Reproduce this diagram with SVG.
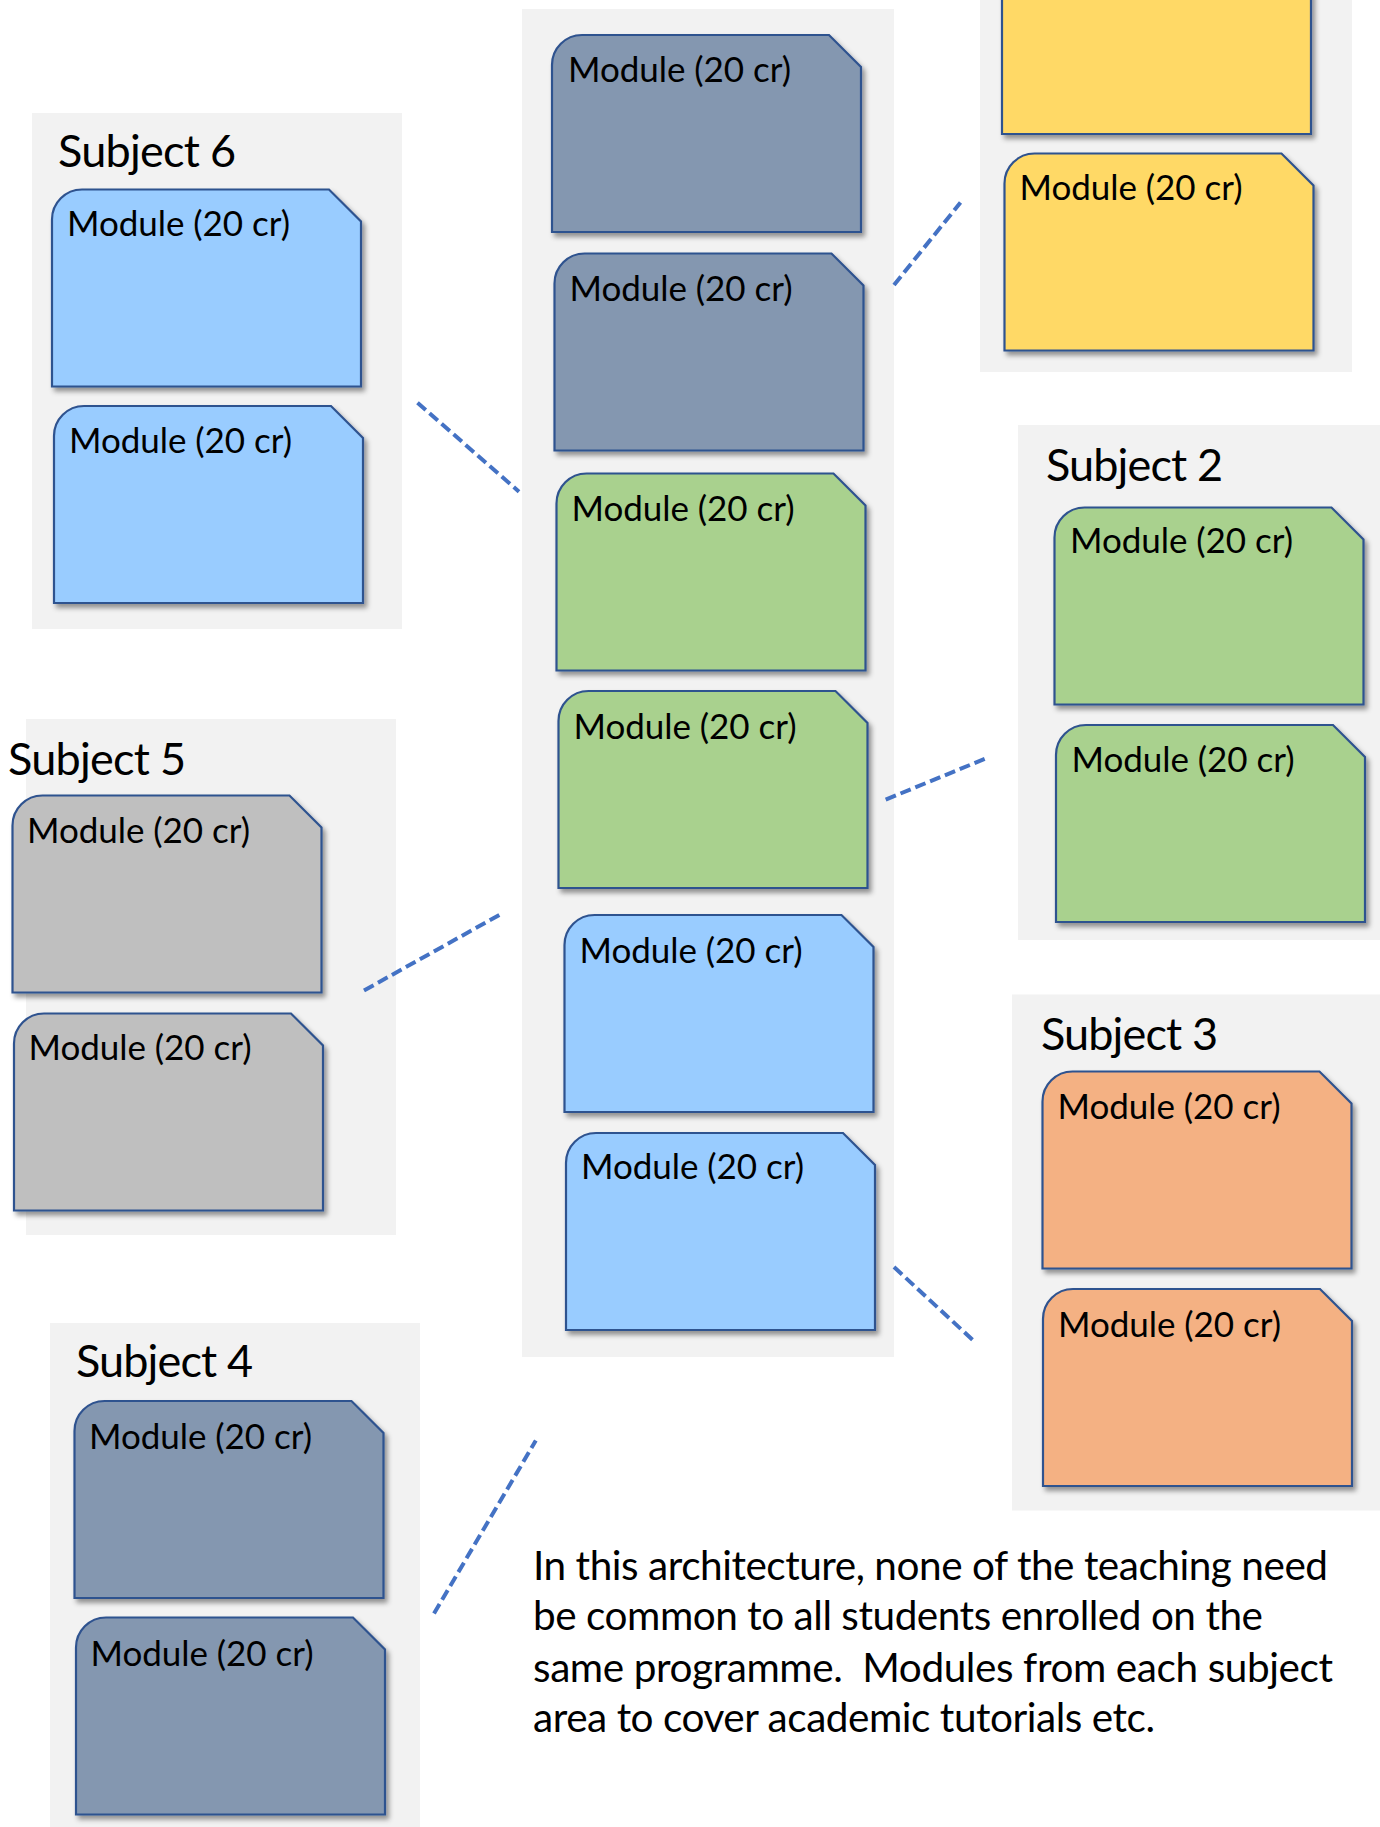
<svg xmlns="http://www.w3.org/2000/svg" xmlns:xlink="http://www.w3.org/1999/xlink" width="1380" height="1827" viewBox="0 0 1380 1827">
<defs>
<style>
.panel{fill:#F2F2F2;}
.m{stroke:#2F528F;stroke-width:2.2;filter:url(#sh);}
.lbl{font-family:Lato,"Open Sans","Liberation Sans",sans-serif;font-size:35px;fill:#000;}
.ttl{font-family:Lato,"Open Sans","Liberation Sans",sans-serif;font-size:45px;fill:#000;}
.para{font-family:Lato,"Open Sans","Liberation Sans",sans-serif;font-size:40.5px;fill:#000;}
.conn{fill:none;stroke:#4472C4;stroke-width:4;stroke-dasharray:11 5;}
.blue{fill:#99CCFF;}
.slate{fill:#8497B0;}
.green{fill:#A9D18E;}
.yellow{fill:#FFD966;}
.gray{fill:#BFBFBF;}
.orange{fill:#F4B183;}
</style>
<filter id="sh" x="-10%" y="-10%" width="125%" height="125%">
<feDropShadow dx="3" dy="4" stdDeviation="2.5" flood-color="#000" flood-opacity="0.4"/>
</filter>
<path id="mod" d="M0,197 V30 A30 30 0 0 1 30,0 H277 L309,32 V197 Z"/>
</defs>
<rect width="1380" height="1827" fill="#FFFFFF"/>

<g id="panels">
<rect id="panel-central" class="panel" x="522" y="9" width="372" height="1348"/>
<rect id="panel-yellow" class="panel" x="980" y="0" width="372" height="372"/>
<rect id="panel-subject6" class="panel" x="32" y="113" width="370" height="516"/>
<rect id="panel-subject2" class="panel" x="1018" y="425" width="362" height="515"/>
<rect id="panel-subject5" class="panel" x="26" y="719" width="370" height="516"/>
<rect id="panel-subject3" class="panel" x="1012" y="994.5" width="368" height="516"/>
<rect id="panel-subject4" class="panel" x="50" y="1323" width="370" height="504"/>
</g>

<g id="titles">
<text id="title-subject6" class="ttl" x="58" y="167" textLength="178">Subject 6</text>
<text id="title-subject2" class="ttl" x="1046" y="480.5" textLength="177">Subject 2</text>
<text id="title-subject5" class="ttl" x="8" y="775" textLength="178">Subject 5</text>
<text id="title-subject3" class="ttl" x="1041" y="1050" textLength="177">Subject 3</text>
<text id="title-subject4" class="ttl" x="76" y="1377" textLength="177">Subject 4</text>
</g>

<g id="connectors">
<line class="conn" x1="417.5" y1="402.7" x2="519" y2="491.7"/>
<line class="conn" x1="894" y1="285" x2="960.5" y2="202.5"/>
<line class="conn" x1="885.7" y1="799.6" x2="985" y2="758.8"/>
<line class="conn" x1="894" y1="1267" x2="973.3" y2="1340.5"/>
<line class="conn" x1="364" y1="990.5" x2="501" y2="914"/>
<line class="conn" x1="434" y1="1613.5" x2="535.8" y2="1440.6"/>
</g>

<g id="node-s6-1" transform="translate(52,189.5)"><use href="#mod" class="m blue"/><text class="lbl" x="15" y="46" textLength="223">Module (20 cr)</text></g>
<g id="node-s6-2" transform="translate(54,406)"><use href="#mod" class="m blue"/><text class="lbl" x="15" y="47" textLength="223">Module (20 cr)</text></g>

<g id="node-c1" transform="translate(552,35)"><use href="#mod" class="m slate"/><text class="lbl" x="16" y="47" textLength="223">Module (20 cr)</text></g>
<g id="node-c2" transform="translate(554.5,253.5)"><use href="#mod" class="m slate"/><text class="lbl" x="15" y="47" textLength="223">Module (20 cr)</text></g>
<g id="node-c3" transform="translate(556.5,473.5)"><use href="#mod" class="m green"/><text class="lbl" x="15" y="47.5" textLength="223">Module (20 cr)</text></g>
<g id="node-c4" transform="translate(558.5,691)"><use href="#mod" class="m green"/><text class="lbl" x="15" y="47.5" textLength="223">Module (20 cr)</text></g>
<g id="node-c5" transform="translate(564.5,915)"><use href="#mod" class="m blue"/><text class="lbl" x="15" y="48" textLength="223">Module (20 cr)</text></g>
<g id="node-c6" transform="translate(566,1133)"><use href="#mod" class="m blue"/><text class="lbl" x="15" y="45.5" textLength="223">Module (20 cr)</text></g>

<g id="node-y1" transform="translate(1002,-63)"><use href="#mod" class="m yellow"/></g>
<g id="node-y2" transform="translate(1004.5,153.5)"><use href="#mod" class="m yellow"/><text class="lbl" x="15" y="46.5" textLength="223">Module (20 cr)</text></g>

<g id="node-s2-1" transform="translate(1054.5,507.5)"><use href="#mod" class="m green"/><text class="lbl" x="15.5" y="45.5" textLength="223">Module (20 cr)</text></g>
<g id="node-s2-2" transform="translate(1056,725)"><use href="#mod" class="m green"/><text class="lbl" x="15.5" y="46.5" textLength="223">Module (20 cr)</text></g>

<g id="node-s5-1" transform="translate(12.5,795.5)"><use href="#mod" class="m gray"/><text class="lbl" x="14.5" y="47.5" textLength="223">Module (20 cr)</text></g>
<g id="node-s5-2" transform="translate(14,1013.5)"><use href="#mod" class="m gray"/><text class="lbl" x="14.5" y="46.5" textLength="223">Module (20 cr)</text></g>

<g id="node-s3-1" transform="translate(1042.5,1071.5)"><use href="#mod" class="m orange"/><text class="lbl" x="15" y="47.5" textLength="223">Module (20 cr)</text></g>
<g id="node-s3-2" transform="translate(1043,1289)"><use href="#mod" class="m orange"/><text class="lbl" x="15" y="47.5" textLength="223">Module (20 cr)</text></g>

<g id="node-s4-1" transform="translate(74.5,1401)"><use href="#mod" class="m slate"/><text class="lbl" x="14.5" y="47.5" textLength="223">Module (20 cr)</text></g>
<g id="node-s4-2" transform="translate(76,1617.5)"><use href="#mod" class="m slate"/><text class="lbl" x="14.5" y="48.5" textLength="223">Module (20 cr)</text></g>

<g id="note">
<text class="para" x="533" y="1579.5" textLength="795">In this architecture, none of the teaching need</text>
<text class="para" x="533" y="1630" textLength="730">be common to all students enrolled on the</text>
<text class="para" x="533" y="1681.5" textLength="800" xml:space="preserve">same programme.  Modules from each subject</text>
<text class="para" x="533" y="1732" textLength="622">area to cover academic tutorials etc.</text>
</g>
</svg>
